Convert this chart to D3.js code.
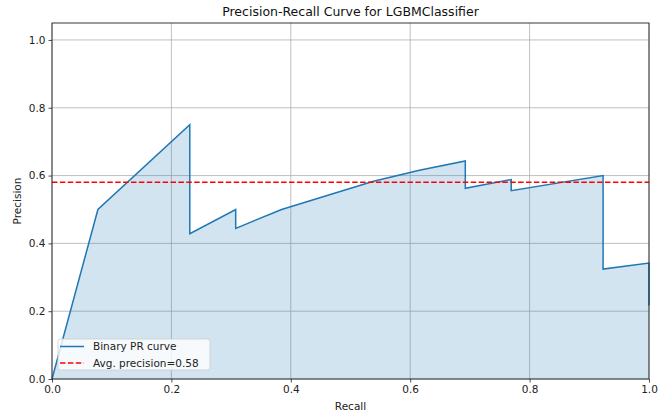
<!DOCTYPE html>
<html>
<head>
<meta charset="utf-8">
<script src="https://cdn.jsdelivr.net/npm/d3@7"></script>
<style>
  body { margin: 0; background: #fff; }
  text { font-family: "DejaVu Sans", sans-serif; }
</style>
</head>
<body>
<svg width="665" height="415"></svg>
<script>
(function () {
  "use strict";

  // PR curve vertices
  const recall = [0, 0.0769, 0.2308, 0.2308, 0.3077, 0.3077, 0.3846, 0.5385,
    0.6154, 0.6923, 0.6923, 0.7692, 0.7692, 0.9231, 0.9231, 1.0, 1.0];
  const precision = [0, 0.5, 0.75, 0.4286, 0.5, 0.4444, 0.5, 0.5833,
    0.6154, 0.6429, 0.5625, 0.5882, 0.5556, 0.6, 0.3243, 0.3421, 0.217];
  const avgPrecision = 0.58;
  const xTicks = [0, 0.2, 0.4, 0.6, 0.8, 1.0];
  const yTicks = [0, 0.2, 0.4, 0.6, 0.8, 1.0];
  const title = "Precision-Recall Curve for LGBMClassifier";

  const svg = d3.select("svg");
  const margin = { left: 52, right: 16, top: 23, bottom: 36 };
  const width = +svg.attr("width");
  const height = +svg.attr("height");
  const x0 = margin.left, x1 = width - margin.right;
  const y0 = height - margin.bottom, y1 = margin.top;

  const x = d3.scaleLinear().domain([0, 1]).range([x0, x1]);
  const y = d3.scaleLinear().domain([0, 1.05]).range([y0, y1]);

  const points = recall.map((r, i) => [r, precision[i]]);
  const blue = "#1f77b4";

  // grid
  const grid = svg.append("g").attr("stroke", "#b0b0b0").attr("stroke-width", 0.8);
  grid.selectAll("line.gx").data(xTicks).join("line")
    .attr("x1", d => x(d)).attr("x2", d => x(d))
    .attr("y1", y0).attr("y2", y1);
  grid.selectAll("line.gy").data(yTicks).join("line")
    .attr("x1", x0).attr("x2", x1)
    .attr("y1", d => y(d)).attr("y2", d => y(d));

  // filled area under curve
  svg.append("path")
    .datum(points)
    .attr("fill", blue)
    .attr("fill-opacity", 0.2)
    .attr("d", d3.area().x(d => x(d[0])).y0(y(0)).y1(d => y(d[1])));

  svg.append("path")
    .datum(points)
    .attr("fill", "none")
    .attr("stroke", blue)
    .attr("stroke-width", 1.5)
    .attr("stroke-linejoin", "miter")
    .attr("d", d3.line().x(d => x(d[0])).y(d => y(d[1])));

  // average precision line
  svg.append("line")
    .attr("x1", x(0)).attr("x2", x(1))
    .attr("y1", y(avgPrecision)).attr("y2", y(avgPrecision))
    .attr("stroke", "red")
    .attr("stroke-width", 1.5)
    .attr("stroke-dasharray", "5.5,2.4");

  // axes
  const xAxis = svg.append("g")
    .attr("transform", `translate(0,${y0})`)
    .call(d3.axisBottom(x).tickValues(xTicks).tickFormat(d3.format(".1f")).tickSize(3.5).tickPadding(3));
  const yAxis = svg.append("g")
    .attr("transform", `translate(${x0},0)`)
    .call(d3.axisLeft(y).tickValues(yTicks).tickFormat(d3.format(".1f")).tickSize(3.5).tickPadding(3));
  [xAxis, yAxis].forEach(a => {
    a.select(".domain").remove();
    a.selectAll("text").attr("font-size", 10.5).attr("fill", "#222")
      .style("font-family", "DejaVu Sans, sans-serif");
    a.selectAll("line").attr("stroke", "#222").attr("stroke-width", 0.8);
  });

  // frame
  svg.append("rect")
    .attr("x", x0).attr("y", y1)
    .attr("width", x1 - x0).attr("height", y0 - y1)
    .attr("fill", "none").attr("stroke", "#222").attr("stroke-width", 0.9);

  // labels
  svg.append("text")
    .attr("x", (x0 + x1) / 2).attr("y", 16)
    .attr("text-anchor", "middle").attr("font-size", 12.5).attr("fill", "#111")
    .text(title);
  svg.append("text")
    .attr("x", (x0 + x1) / 2).attr("y", 410)
    .attr("text-anchor", "middle").attr("font-size", 10.5).attr("fill", "#222")
    .text("Recall");
  svg.append("text")
    .attr("transform", `translate(21,${(y0 + y1) / 2}) rotate(-90)`)
    .attr("text-anchor", "middle").attr("font-size", 10.5).attr("fill", "#222")
    .text("Precision");

  // legend
  const lg = svg.append("g").attr("transform", `translate(${x0 + 6},339)`);
  lg.append("rect")
    .attr("width", 152).attr("height", 31).attr("rx", 2.5)
    .attr("fill", "#fff").attr("fill-opacity", 0.8)
    .attr("stroke", "#ccc").attr("stroke-width", 0.8);
  const items = [
    { label: "Binary PR curve", color: blue, dash: null },
    { label: "Avg. precision=" + avgPrecision.toFixed(2), color: "red", dash: "5.5,2.4" }
  ];
  items.forEach((it, i) => {
    const yy = 7.5 + i * 16.5;
    lg.append("line")
      .attr("x1", 2).attr("x2", 26).attr("y1", yy).attr("y2", yy)
      .attr("stroke", it.color).attr("stroke-width", 1.5)
      .attr("stroke-dasharray", it.dash);
    lg.append("text")
      .attr("x", 35).attr("y", yy + 3.9)
      .attr("font-size", 10.5).attr("fill", "#222")
      .text(it.label);
  });
})(d3);
</script>
</body>
</html>
